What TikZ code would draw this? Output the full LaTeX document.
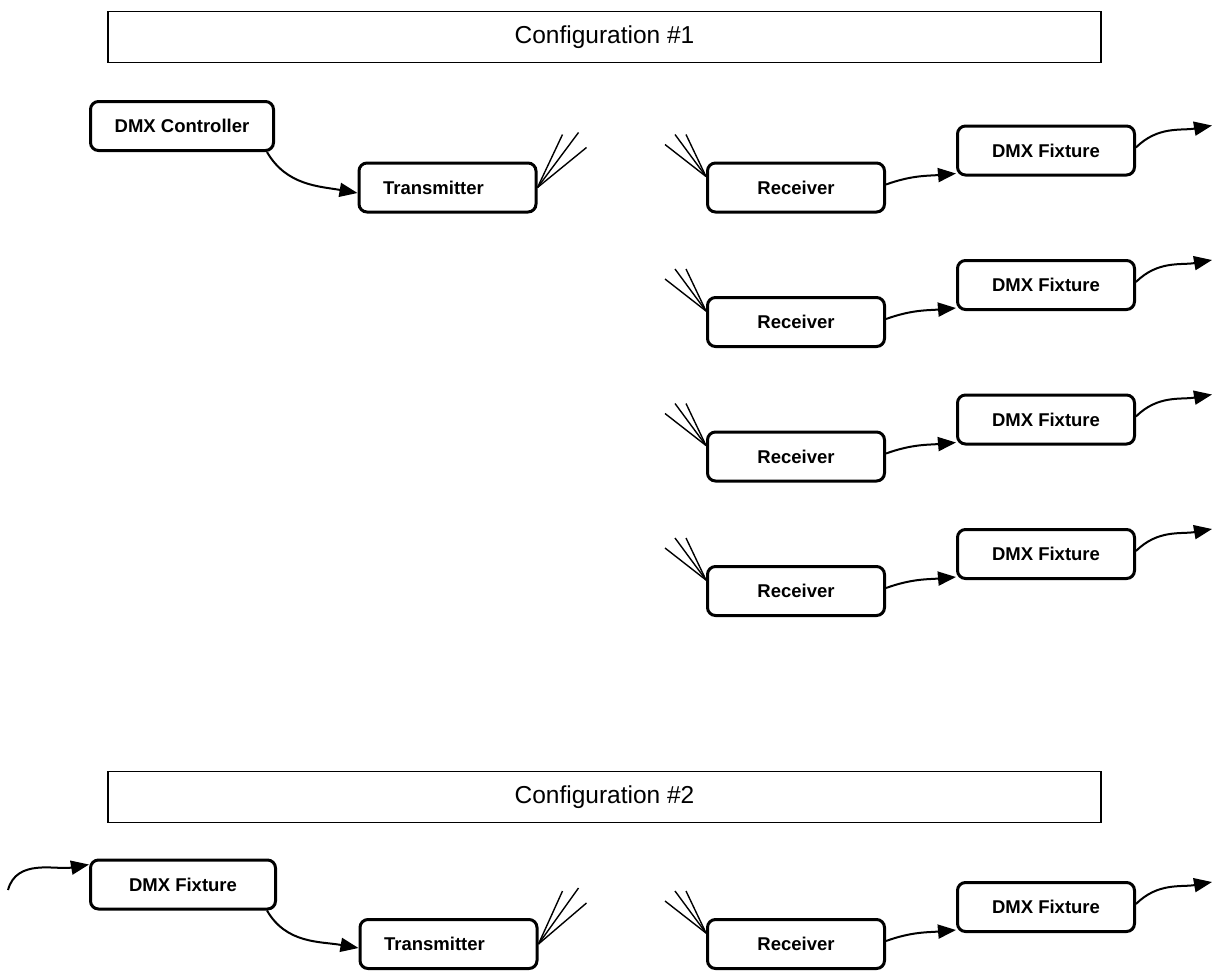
\documentclass[tikz,border=0pt]{standalone}
\usepackage{fontspec}
\setmainfont{Liberation Sans}
\usetikzlibrary{arrows.meta}
\tikzset{
  devbox/.style={draw, line width=3pt, rounded corners=8pt, minimum width=177pt, minimum height=49pt, inner sep=0pt, font=\bfseries\fontsize{18.5}{21}\selectfont},
  titlebox/.style={draw, line width=1.5pt, minimum width=993pt, minimum height=51pt, inner sep=0pt, font=\fontsize{24.5}{28}\selectfont},
  wire/.style={line width=2pt, -{Triangle[length=18pt,width=14pt]}},
  aerial/.style={line width=1.4pt}
}
\begin{document}
\begin{tikzpicture}[x=1pt,y=1pt]
              \useasboundingbox (0,0) rectangle (1215,-970);
              \node[titlebox] (cfg1) at (604.5,-37) {Configuration \#1};
              \node[devbox, minimum width=183pt] (ctrl) at (182,-126) {DMX Controller};
              \node[devbox] (tx1) at (447.5,-187.5) {Transmitter\kern28pt};
              \draw[wire] ([xshift=-8pt]ctrl.south east) to[out=-60,in=170] ([yshift=-5.5pt]tx1.west);
              \foreach \dx/\dy in {25/53,41/55,49/40}
                  \draw[aerial] (tx1.east) -- ++(\dx,\dy);
              \node[titlebox] (cfg2) at (604.5,-797) {Configuration \#2};
              \node[devbox, minimum width=185pt] (fx0) at (183,-884.5) {DMX Fixture};
              \coordinate (in0) at (8,-890);
              \draw[wire] (in0) to[out=75,in=190] ([yshift=-6pt]fx0.north west);
              \node[devbox] (tx2) at (448.5,-944) {Transmitter\kern28pt};
              \draw[wire] ([xshift=-10pt]fx0.south east) to[out=-60,in=170] ([yshift=-4pt]tx2.west);
              \foreach \dx/\dy in {24/53,40/56,48/41}
                  \draw[aerial] (tx2.east) -- ++(\dx,\dy);
              \foreach \i/\y in {1/-187.5,2/-322,3/-456.5,4/-591,5/-944} {
                  \node[devbox] (rx\i) at (796,\y) {Receiver};
                  \node[devbox] (fx\i) at (1046,\y+37) {DMX Fixture};
                  \coordinate (out\i) at ([shift={(76,25)}]fx\i.east);
                  \draw[wire] ([yshift=3pt]rx\i.east) to[out=20,in=185] ([yshift=3pt]fx\i.south west);
                  \draw[wire] ([yshift=3pt]fx\i.east) to[out=45,in=190] (out\i);
                  \foreach \dx/\dy in {-41/32,-31/42,-20/42}
                      \draw[aerial] ([yshift=11pt]rx\i.west) -- ++(\dx,\dy);
              }
        \end{tikzpicture}
\end{document}
